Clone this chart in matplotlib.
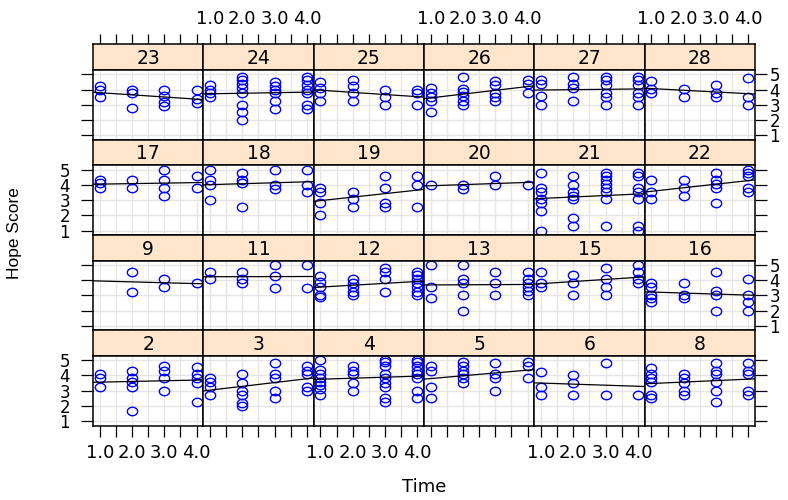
import numpy as np
import matplotlib
matplotlib.use("Agg")
import matplotlib.pyplot as plt
from matplotlib.path import Path

plt.rcParams['font.family'] = ['DejaVu Sans']

# Hope Score per subject, one list per time point (1, 2, 3, 4)
hope_2 = ([4.1, 3.85, 3.25], [4.3, 3.85, 3.6, 3.25, 1.7], [4.6, 4.3, 3.8, 3.0], [4.55, 4.1, 3.8, 3.5, 2.25])
hope_3 = ([3.8, 3.6, 3.25, 2.75], [4.1, 3.5, 3.0, 2.75, 2.2, 2.0], [4.8, 4.1, 3.8, 3.0, 2.55], [4.6, 4.3, 4.1, 3.25, 3.0])
hope_4 = ([5.0, 4.35, 4.1, 3.85, 3.6, 3.35, 3.1, 2.75], [4.6, 4.3, 4.1, 3.5, 3.0],
          [5.0, 4.85, 4.6, 4.1, 3.8, 3.5, 3.25, 2.55, 2.25], [5.0, 4.85, 4.6, 4.3, 4.1, 3.8, 3.0, 2.55])
hope_5 = ([4.6, 4.3, 3.25, 2.5], [4.85, 4.6, 4.3, 4.1, 3.8, 3.5], [4.8, 4.1, 3.8, 3.0], [4.85, 4.6, 3.8])
hope_6 = ([4.25, 3.25, 2.75], [4.0, 3.5, 2.75], [4.8, 2.75], [2.75])
hope_8 = ([4.5, 4.1, 3.8, 3.6, 2.75, 2.5], [4.1, 3.8, 3.5, 3.0, 2.75], [4.8, 4.3, 4.1, 3.6, 3.0, 2.25], [4.8, 4.3, 4.1, 3.0, 2.75])
hope_9 = ([], [4.55, 3.25], [4.05, 3.55], [3.8])
hope_11 = ([4.55, 4.05], [4.55, 4.05, 3.8], [5.0, 4.3, 3.5], [5.0, 3.5])
hope_12 = ([4.3, 3.85, 3.55, 3.05, 2.9], [4.05, 3.8, 3.55, 3.25, 3.05], [4.8, 4.55, 4.05, 3.25],
           [4.55, 4.35, 4.05, 3.8, 3.55, 3.25, 3.05])
hope_13 = ([5.0, 3.55, 2.8], [5.0, 4.05, 3.8, 3.05, 2.0], [4.55, 3.8, 3.05], [4.55, 4.05, 3.8, 3.55, 3.3, 3.05])
hope_15 = ([4.55, 3.8, 3.55], [4.35, 3.8, 3.05], [4.8, 4.05, 3.55, 3.05], [5.0, 4.55, 4.05, 3.8])
hope_16 = ([3.8, 3.55, 3.05, 2.8, 2.6], [3.8, 3.05, 2.8], [4.55, 3.3, 3.05, 2.0], [4.05, 3.05, 2.55, 2.0])
hope_17 = ([4.3, 4.1, 3.8], [4.3, 3.8], [5.0, 4.3, 3.8, 3.3], [4.55, 3.8])
hope_18 = ([5.0, 4.3, 4.0, 3.0], [4.8, 4.3, 4.1, 2.55], [5.0, 4.0, 3.75], [5.0, 4.0, 3.55])
hope_19 = ([3.8, 3.55, 2.8, 2.0], [3.55, 3.05, 2.55], [4.55, 3.8, 2.8, 2.55], [4.55, 4.0, 2.55])
hope_20 = ([4.0], [4.0, 3.75], [4.55, 4.0], [4.0])
hope_21 = ([4.8, 3.8, 3.55, 3.05, 2.8, 2.3, 1.0], [4.55, 4.0, 3.55, 3.3, 3.05, 1.85, 1.3],
           [4.8, 4.55, 4.3, 4.05, 3.8, 3.55, 3.05, 1.3], [4.8, 4.55, 3.8, 3.55, 3.05, 1.3, 1.0])
hope_22 = ([4.3, 3.55, 3.05], [4.3, 3.8, 3.3], [4.8, 4.3, 4.05, 3.8, 2.8], [5.0, 4.8, 4.55, 3.8, 3.55])
hope_23 = ([4.25, 4.0, 3.5], [4.0, 3.8, 2.8], [4.0, 3.55, 3.2, 2.9], [4.0, 3.4, 3.1])
hope_24 = ([4.3, 4.0, 3.75, 3.5], [4.85, 4.6, 4.35, 4.1, 3.8, 3.0, 2.5, 2.0],
           [4.5, 4.25, 4.0, 3.75, 3.25, 2.75], [4.85, 4.6, 4.3, 4.0, 3.75, 3.0, 2.75])
hope_25 = ([4.5, 4.1, 3.75, 3.25], [4.6, 4.25, 3.75, 3.25], [4.0, 3.5, 3.0], [4.0, 3.75, 3.0])
hope_26 = ([4.1, 3.8, 3.5, 3.25, 2.5], [4.85, 4.05, 3.85, 3.55, 3.25, 3.0], [4.55, 4.3, 3.8, 3.5, 3.25], [4.6, 4.35, 3.75])
hope_27 = ([4.6, 4.35, 3.55, 3.0], [4.85, 4.35, 4.1, 3.25], [4.85, 4.6, 4.3, 3.8, 3.5, 3.0], [4.85, 4.6, 4.3, 3.8, 3.5, 3.0])
hope_28 = ([4.55, 4.05, 3.8], [4.05, 3.5], [4.3, 3.8, 3.5], [4.75, 3.5, 3.0])

times = [1, 2, 3, 4]
layout_rows = [[23, 24, 25, 26, 27, 28],
               [17, 18, 19, 20, 21, 22],
               [9, 11, 12, 13, 15, 16],
               [2, 3, 4, 5, 6, 8]]
panels = {s: globals()["hope_%d" % s] for row in layout_rows for s in row}

x_ticks = [1, 1.5, 2, 2.5, 3, 3.5, 4]
x_labels = ["1.0", "", "2.0", "", "3.0", "", "4.0"]
y_ticks = [1, 2, 3, 4, 5]

W, H = 788, 500
left0, col_w = 93, 110.33
top0, strip_h, panel_h = 44.3, 25.7, 69.6
row_h = strip_h + panel_h
TXT = 13

# slightly wide open circle, like the reference
theta = np.linspace(0, 2 * np.pi, 60)
ring = Path(np.column_stack([np.cos(theta), 0.82 * np.sin(theta)]), closed=True)

fig = plt.figure(figsize=(W / 100, H / 100), dpi=100)

def box(x, y, w, h):
    return [x / W, 1 - (y + h) / H, w / W, h / H]

for r, row in enumerate(layout_rows):
    for c, subj in enumerate(row):
        x0 = left0 + c * col_w
        y0 = top0 + r * row_h

        # strip
        sax = fig.add_axes(box(x0, y0, col_w, strip_h))
        sax.set_facecolor("#ffe5cc")
        sax.set_xlim(0.79, 4.21)
        sax.set_ylim(0, 1)
        sax.set_yticks([])
        sax.text(2.5, 0.45, str(subj), ha="center", va="center", fontsize=13.5)
        for sp in sax.spines.values():
            sp.set_linewidth(1.1)
        if r == 0:
            sax.set_xticks(x_ticks)
            sax.set_xticklabels(x_labels)
            sax.tick_params(axis="x", top=True, bottom=False, labelbottom=False,
                            labeltop=(c % 2 == 1), direction="out", length=7,
                            width=0.9, pad=5, labelsize=TXT)
        else:
            sax.set_xticks([])

        # panel
        ax = fig.add_axes(box(x0, y0 + strip_h, col_w, panel_h))
        ax.set_xlim(0.79, 4.21)
        ax.set_ylim(0.72, 5.28)
        for xv in x_ticks:
            ax.axvline(xv, color="#e6e6e6", lw=1.0, zorder=0)
        for yv in y_ticks:
            ax.axhline(yv, color="#e6e6e6", lw=1.0, zorder=0)

        xs, ys = [], []
        for t, vals in zip(times, panels[subj]):
            xs += [t] * len(vals)
            ys += list(vals)
        ax.plot(xs, ys, linestyle="none", marker=ring, mfc="none", mec="#0000ff",
                ms=7.4, mew=1.0, zorder=2)
        if len(set(xs)) > 1:
            b, a = np.polyfit(xs, ys, 1)
            xl = np.array([0.79, 4.21])
            ax.plot(xl, a + b * xl, color="black", lw=0.9, zorder=3)

        for sp in ax.spines.values():
            sp.set_linewidth(1.1)

        ax.set_xticks(x_ticks)
        ax.set_xticklabels(x_labels)
        ax.tick_params(axis="x", top=False, labeltop=False,
                       bottom=(r == 3), labelbottom=(r == 3 and c % 2 == 0),
                       direction="out", length=8, width=0.9, pad=5, labelsize=TXT)
        ax.set_yticks(y_ticks)
        ax.tick_params(axis="y", left=(c == 0), right=(c == 5),
                       labelleft=(c == 0 and r % 2 == 1),
                       labelright=(c == 5 and r % 2 == 0),
                       direction="out", length=8.5, width=0.9, labelsize=12,
                       pad=(8 if c == 0 else 2))

fig.text(424 / W, 1 - 487 / H, "Time", ha="center", va="center", fontsize=TXT)
fig.text(15 / W, 1 - 233 / H, "Hope Score", ha="center", va="center", rotation=90,
         fontsize=12.5, family="Liberation Sans")

fig.savefig("out.png", dpi=100)
